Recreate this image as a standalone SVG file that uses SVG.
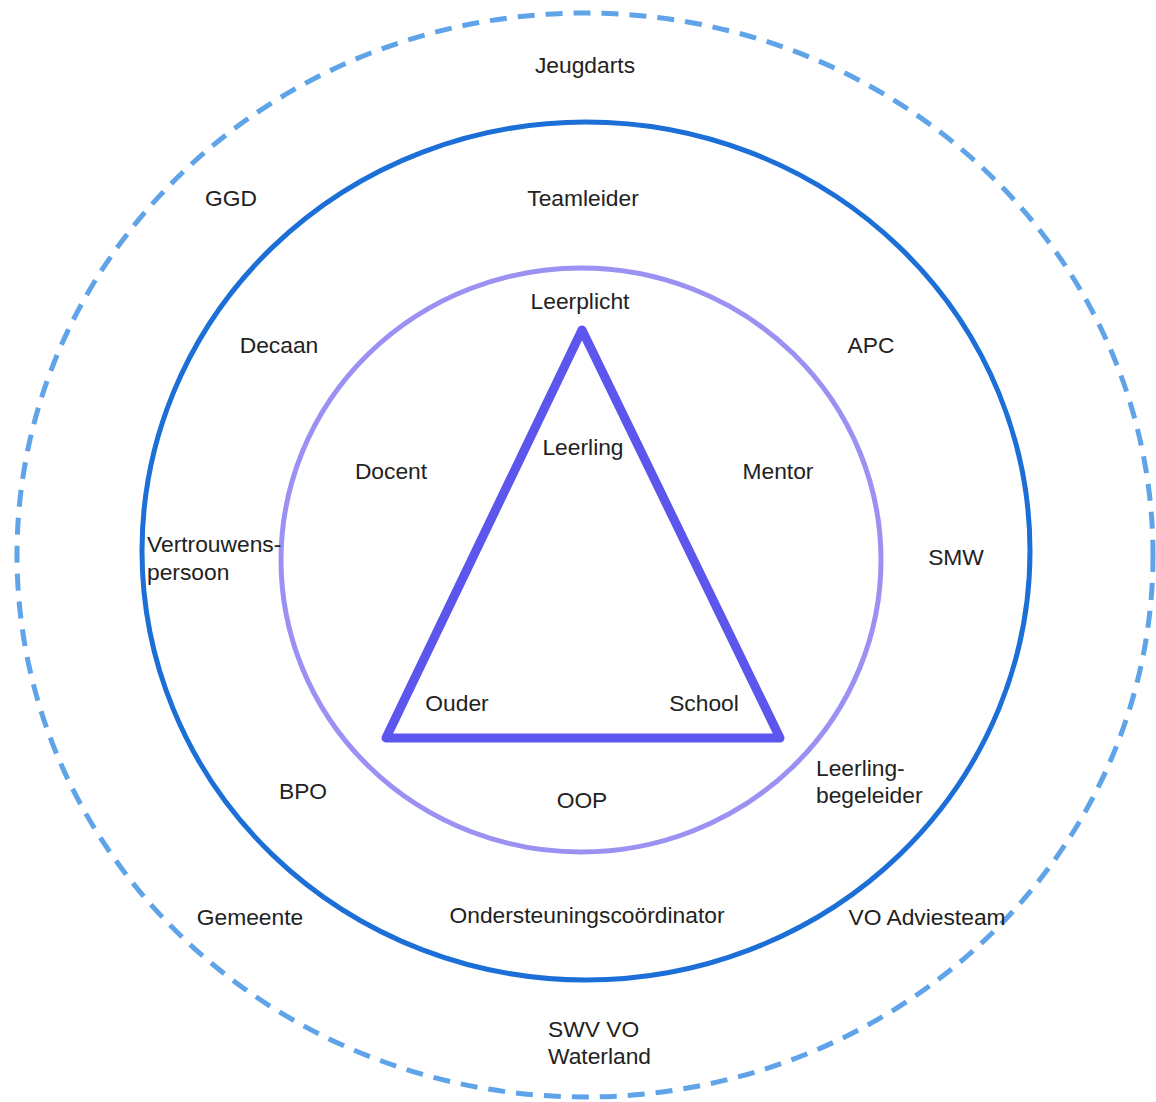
<svg xmlns="http://www.w3.org/2000/svg" width="1156" height="1102" viewBox="0 0 1156 1102">
<style>
  text { font-family: "Liberation Sans", Arial, sans-serif; font-size: 22.8px; fill: #222; }
  .c { text-anchor: middle; }
  .outer { fill: none; stroke: #5fa3e8; stroke-width: 5; stroke-dasharray: 17 11; }
  .mid { fill: none; stroke: #1c6fd6; stroke-width: 5; }
  .inner { fill: none; stroke: #9b91f2; stroke-width: 5; }
  .tri { fill: none; stroke: #5c55ee; stroke-width: 9; stroke-linejoin: round; }
</style>
<rect width="1156" height="1102" fill="#ffffff"/>
<g id="rings">
  <ellipse id="ring-outer" class="outer" cx="585" cy="555" rx="568" ry="542"/>
  <ellipse id="ring-middle" class="mid" cx="586" cy="551" rx="444" ry="429"/>
  <ellipse id="ring-inner" class="inner" cx="581" cy="560" rx="300" ry="292"/>
  <polygon id="triangle" class="tri" points="582,330 386,738 780,738"/>
</g>
<g id="connectors"></g>
<g id="n-jeugdarts"><text class="c" x="585" y="73">Jeugdarts</text></g>
<g id="n-ggd"><text class="c" x="231" y="206">GGD</text></g>
<g id="n-teamleider"><text class="c" x="583" y="206">Teamleider</text></g>
<g id="n-leerplicht"><text class="c" x="580" y="309">Leerplicht</text></g>
<g id="n-decaan"><text class="c" x="279" y="353">Decaan</text></g>
<g id="n-apc"><text class="c" x="871" y="353">APC</text></g>
<g id="n-leerling"><text class="c" x="583" y="455">Leerling</text></g>
<g id="n-docent"><text class="c" x="391" y="479">Docent</text></g>
<g id="n-mentor"><text class="c" x="778" y="479">Mentor</text></g>
<g id="n-vertrouwenspersoon"><text x="147" y="552">Vertrouwens-</text><text x="147" y="580">persoon</text></g>
<g id="n-smw"><text class="c" x="956" y="565">SMW</text></g>
<g id="n-ouder"><text class="c" x="457" y="711">Ouder</text></g>
<g id="n-school"><text class="c" x="704" y="711">School</text></g>
<g id="n-leerlingbegeleider"><text x="816" y="776">Leerling-</text><text x="816" y="803">begeleider</text></g>
<g id="n-bpo"><text class="c" x="303" y="799">BPO</text></g>
<g id="n-oop"><text class="c" x="582" y="808">OOP</text></g>
<g id="n-gemeente"><text class="c" x="250" y="925">Gemeente</text></g>
<g id="n-ondersteuningscoordinator"><text class="c" x="587" y="923">Ondersteuningscoördinator</text></g>
<g id="n-voadviesteam"><text class="c" x="927" y="925">VO Adviesteam</text></g>
<g id="n-swv"><text x="548" y="1037">SWV VO</text><text x="548" y="1064">Waterland</text></g>
</svg>
